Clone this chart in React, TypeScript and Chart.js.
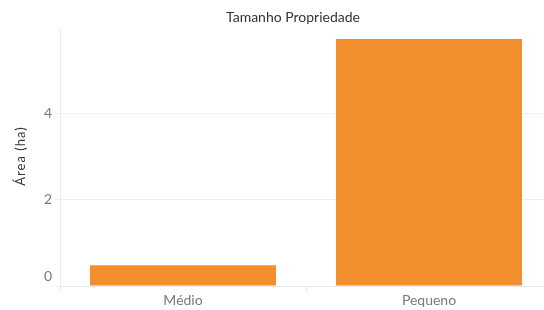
import React, { useEffect, useRef } from "react";
import { Chart, registerables } from "chart.js";

Chart.register(...registerables);

const categories = ["Médio", "Pequeno"];
const areaValues = [0.48, 5.72];
const yTickValues = [0, 2, 4];
const chartTitle = "Tamanho Propriedade";
const yAxisTitle = "Área (ha)";

const FONT = "Lato, 'Open Sans', sans-serif";

const labelPlugin = {
  id: "labelPlugin",
  afterDraw(chart: any) {
    const ctx = chart.ctx;
    const y = chart.scales.y;
    ctx.save();
    ctx.fillStyle = "#7a7a7a";
    ctx.font = `14px ${FONT}`;
    ctx.textAlign = "right";
    yTickValues.forEach((v) => {
      const py = y.getPixelForValue(v);
      if (v === 0) {
        ctx.textBaseline = "alphabetic";
        ctx.fillText(String(v), 52, py - 5);
      } else {
        ctx.textBaseline = "middle";
        ctx.fillText(String(v), 52, py);
      }
    });
    // chart title
    ctx.fillStyle = "#333";
    ctx.font = `14px ${FONT}`;
    ctx.textAlign = "center";
    ctx.textBaseline = "middle";
    ctx.fillText(chartTitle, 293, 17);
    // y axis title
    ctx.font = `13px ${FONT}`;
    (ctx as any).letterSpacing = "1px";
    ctx.translate(21, 156);
    ctx.rotate(-Math.PI / 2);
    ctx.fillText(yAxisTitle, 0, 0);
    ctx.restore();
  },
};

export default function App() {
  const ref = useRef<HTMLCanvasElement>(null);
  useEffect(() => {
    document.body.style.overflow = "hidden";
    const chart = new Chart(ref.current as HTMLCanvasElement, {
      type: "bar",
      data: {
        labels: categories,
        datasets: [
          {
            data: areaValues,
            backgroundColor: "#f28e2c",
            categoryPercentage: 1,
            barPercentage: 0.756,
          },
        ],
      },
      options: {
        animation: false,
        responsive: false,
        maintainAspectRatio: false,
        layout: { padding: { left: 0, top: 27, right: 34, bottom: 0 } },
        plugins: {
          legend: { display: false },
          title: { display: false },
          tooltip: { enabled: false },
        },
        scales: {
          x: {
            offset: true,
            grid: {
              offset: true,
              drawOnChartArea: false,
              drawTicks: true,
              tickLength: 5,
              color: "#e8e8e8",
            },
            border: { display: true, color: "#e8e8e8" },
            ticks: {
              color: "#7a7a7a",
              font: { family: FONT, size: 14 },
              padding: 1,
            },
            afterFit(scale: any) {
              scale.height = 24;
            },
          },
          y: {
            min: 0,
            max: 6,
            grid: {
              color: (c: any) =>
                c.tick && c.tick.value === 6 ? "rgba(0,0,0,0)" : "#efefef",
              drawTicks: true,
              tickLength: 5,
            },
            border: { display: true, color: "#ececec" },
            ticks: { stepSize: 2, display: false },
            afterFit(scale: any) {
              scale.width = 60;
            },
          },
        },
      },
      plugins: [labelPlugin],
    } as any);
    return () => chart.destroy();
  }, []);
  return (
    <div style={{ position: "absolute", left: 0, top: 0 }}>
      <canvas ref={ref} width={586} height={310} />
    </div>
  );
}
